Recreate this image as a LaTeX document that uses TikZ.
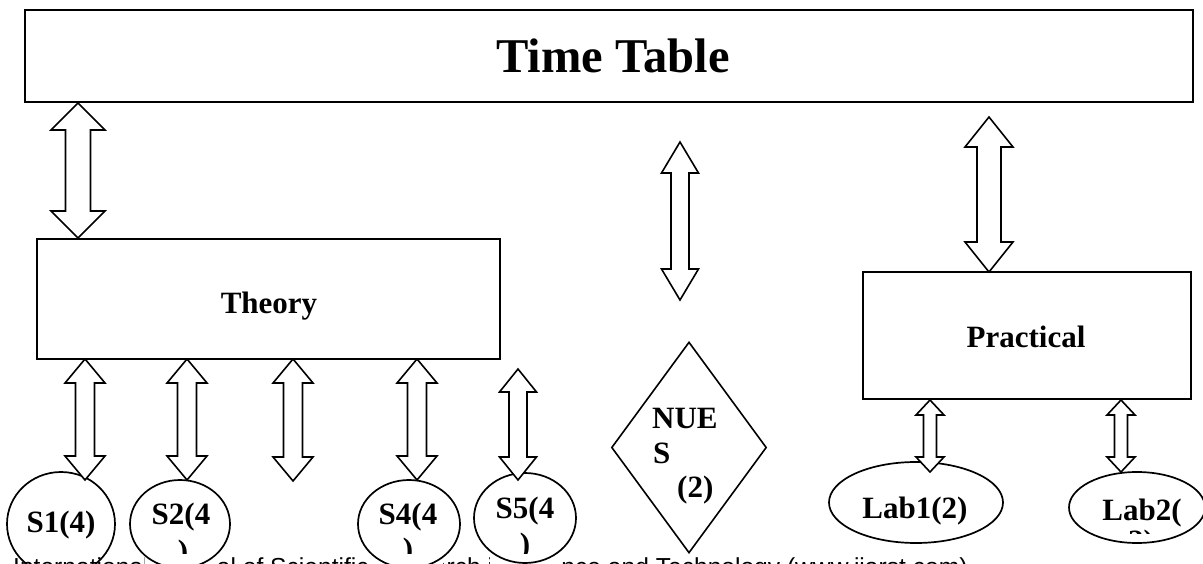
\documentclass[tikz,border=0pt]{standalone}
\usepackage{fontspec}
\setmainfont{Liberation Serif}
\newfontfamily\footfont{Liberation Sans}
\usetikzlibrary{shapes.geometric}
\tikzset{
  box/.style={draw, line width=1.6pt, inner sep=0pt, fill=white},
  blk/.style={draw, line width=1.6pt, fill=white, line join=miter},
  oval/.style={ellipse, draw, line width=1.7pt, inner sep=0pt},
  lbl/.style={font=\fontsize{31}{34}\selectfont\bfseries, inner sep=0pt, anchor=base},
  gap/.style={fill=white, inner sep=0pt, minimum width=70pt, minimum height=34pt},
}
% x, ytop, ybot, head half width, shaft half width, head length
\newcommand\blockarrow[6]{%
  \draw[blk] (#1,#2) -- ({#1+#4},{#2+#6}) -- ({#1+#5},{#2+#6}) -- ({#1+#5},{#3-#6})
   -- ({#1+#4},{#3-#6}) -- (#1,#3) -- ({#1-#4},{#3-#6}) -- ({#1-#5},{#3-#6})
   -- ({#1-#5},{#2+#6}) -- ({#1-#4},{#2+#6}) -- cycle;}
\begin{document}
\begin{tikzpicture}[x=1pt, y=-1pt]
\clip (0,0) rectangle (1203,564);
\fill[white] (0,0) rectangle (1203,564);

% footer (behind the ovals)
\node[anchor=base west, inner sep=0pt, font=\footfont\fontsize{24.6}{28}\selectfont] (foot) at (13,575)
  {International Journal of Scientific Research in Science and Technology (www.ijarst.com)};

% boxes
\node[box, minimum width=1168pt, minimum height=92pt] (tt) at (609,56) {};
\node[lbl, font=\fontsize{48.5}{52}\selectfont\bfseries] (ttl) at (613,73) {Time Table};
\node[box, minimum width=463pt, minimum height=120pt] (theory) at (268.5,299) {};
\node[lbl] (thl) at (269,313) {Theory};
\node[box, minimum width=328pt, minimum height=127pt] (prac) at (1027,335.5) {};
\node[lbl] (prl) at (1026,347) {Practical};

% diamond
\node[diamond, draw, line width=1.6pt, inner sep=0pt, minimum width=155pt, minimum height=211pt, fill=white] (nues) at (689,447.5) {};
\node[lbl, anchor=base west] (nue1) at (652,428) {NUE};
\node[lbl, anchor=base west] (nue2) at (653,463) {S};
\node[lbl, anchor=base west] (nue3) at (677,497) {(2)};

% white text areas of the second lines (they hide part of the footer)
\node[gap] (g2) at (180,547) {};
\node[gap] (g4) at (408,547) {};
\node[gap] (g5) at (525,547) {};

% ovals
\node[oval, minimum width=108pt, minimum height=104pt] (s1) at (61,524) {};
\node[oval, minimum width=100pt, minimum height=88pt] (s2) at (180,524) {};
\node[oval, minimum width=102pt, minimum height=88pt] (s4) at (409,524) {};
\node[oval, minimum width=102pt, minimum height=90pt] (s5) at (525,518) {};
\node[oval, minimum width=174pt, minimum height=81pt] (lab1) at (916,502.5) {};
\node[oval, minimum width=136pt, minimum height=71pt] (lab2) at (1137,507.5) {};

\node[lbl] (s1l) at (61,532) {S1(4)};
\node[lbl] (s2l) at (181,524) {S2(4};
\node[lbl] (s4l) at (408,524) {S4(4};
\node[lbl] (s5l) at (525,518) {S5(4};
\node[lbl] (lab1l) at (915,518) {Lab1(2)};
\node[lbl] (lab2l) at (1142,520) {Lab2(};
\begin{scope}
  \clip (0,0) rectangle (1203,553);
  \node[lbl] (s2m) at (183,561) {)};
  \node[lbl] (s4m) at (408,559) {)};
  \node[lbl] (s5m) at (525,554) {)};
\end{scope}
\begin{scope}
  \clip (0,0) rectangle (1203,533);
  \node[lbl] (lab2m) at (1141,551) {2)};
\end{scope}

% block arrows
\blockarrow{78}{103}{238}{27}{12.5}{27}
\blockarrow{85}{359}{480}{20}{9.5}{24}
\blockarrow{187}{359}{480}{20}{9.5}{24}
\blockarrow{293}{359}{481}{20}{9.5}{24}
\blockarrow{417}{359}{480}{20}{9.5}{24}
\blockarrow{518}{369}{480}{18.5}{9}{23}
\blockarrow{680}{142}{300}{18.5}{9}{31}
\blockarrow{989}{117}{272}{24}{12}{30}
\blockarrow{930}{400}{472}{14}{6.5}{15}
\blockarrow{1121}{400}{472}{14}{6.5}{15}
\end{tikzpicture}
\end{document}
